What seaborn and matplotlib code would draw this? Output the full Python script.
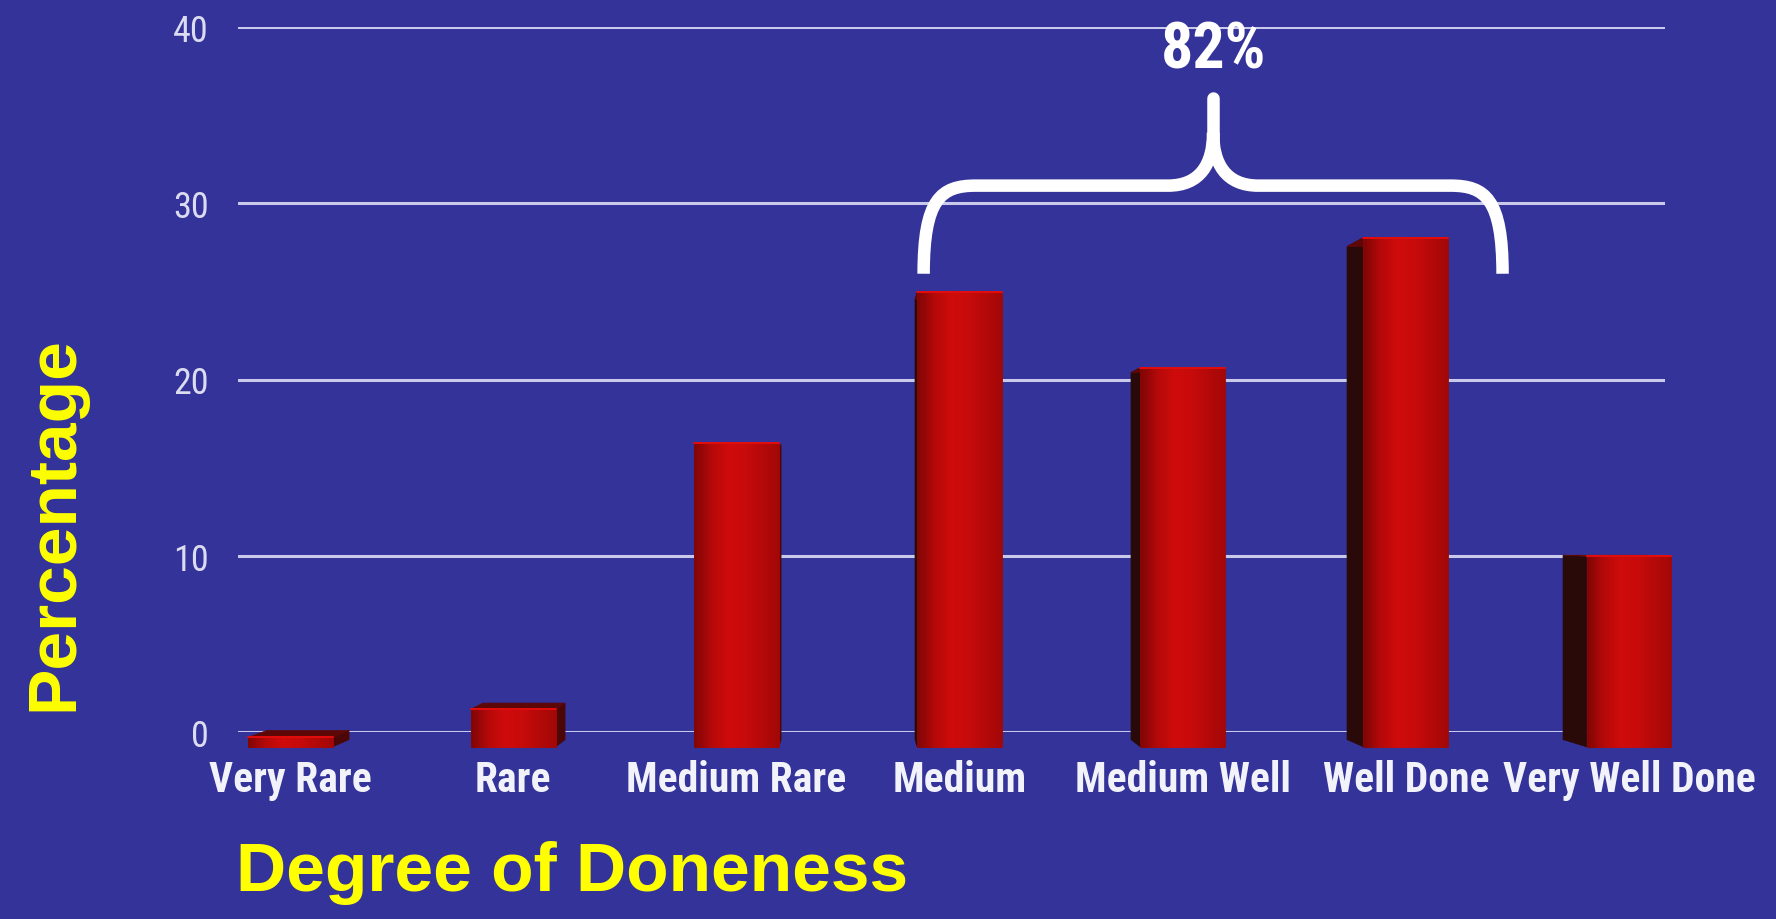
import numpy as np
import pandas as pd
import matplotlib
matplotlib.use("Agg")
import matplotlib.pyplot as plt
import matplotlib.transforms as mtransforms
from matplotlib.patches import Polygon, PathPatch
from matplotlib.collections import PolyCollection
from matplotlib.path import Path
from matplotlib.lines import Line2D
from matplotlib import font_manager as fm
from matplotlib.colors import LinearSegmentedColormap
import seaborn as sns

# ---------------- data ----------------
categories = ["Very Rare", "Rare", "Medium Rare", "Medium",
              "Medium Well", "Well Done", "Very Well Done"]
percentages = [0.5, 2.0, 16.1, 24.1, 20.1, 27.0, 10.1]
y_ticks = [0, 10, 20, 30, 40]
y_tick_labels = ["0", "10", "20", "30", "40"]
bracket_label = "82%"
x_title = "Degree of Doneness"
y_title = "Percentage"

# ---------------- style ----------------
BG = "#333399"
W, H, DPI = 1776, 920, 100
YELLOW = "#ffff00"
GRID = "#c9c9ec"

available = {f.name for f in fm.fontManager.ttflist}
def pick(names):
    for n in names:
        if n in available:
            return n
    return None

NARROW = pick(["Liberation Sans Narrow", "Arial Narrow", "Roboto Condensed",
               "Open Sans Condensed", "DejaVu Sans Condensed"])
NSCALE = 1.0 if NARROW else 0.82
NARROW = NARROW or "Liberation Sans"

sns.set_theme(style="white")
plt.rcParams["font.family"] = ["Liberation Sans", "DejaVu Sans"]

fig = plt.figure(figsize=(W / DPI, H / DPI), dpi=DPI)
fig.patch.set_facecolor(BG)
ax = fig.add_axes([238 / W, 1 - 733 / H, (1665 - 238) / W, (733 - 28) / H])
ax.set_facecolor(BG)

df = pd.DataFrame({"doneness": categories, "pct": percentages})
sns.barplot(data=df, x="doneness", y="pct", order=categories, color="#c40a0a",
            width=0.38, saturation=1, ax=ax, zorder=3)

ax.set_xlim(-0.324, 6.282)
ax.set_ylim(0, 40)
ax.set_yticks(y_ticks)
ax.set_yticklabels(y_tick_labels)
ax.set_xlabel("")
ax.set_ylabel("")
for s in ax.spines.values():
    s.set_visible(False)
ax.yaxis.grid(True, color=GRID, linewidth=2.2, zorder=0)
ax.xaxis.grid(False)
ax.set_axisbelow(True)
ax.tick_params(axis="x", bottom=False, labelbottom=False)
ax.tick_params(axis="y", left=False, pad=15, labelsize=26 * NSCALE, labelcolor="#dcdcf0")
for lbl in ax.get_yticklabels():
    lbl.set_family([NARROW, "DejaVu Sans"])

# ---------------- pseudo-3D perspective ----------------
VIEW_X, VIEW_Y = 2.5, 12.0          # vanishing point (data units)
vx, vy = ax.transData.transform((VIEW_X, VIEW_Y))
def persp(kx, ky):
    return (mtransforms.Affine2D().translate(-vx, -vy)
            .scale(1 + kx, 1 + ky).translate(vx, vy))
A_front = persp(0.033, 0.070)
A_back = persp(0.0, 0.036)
T_front = ax.transData + A_front
T_back = ax.transData + A_back
ident = mtransforms.IdentityTransform()

cmap = LinearSegmentedColormap.from_list(
    "face", ["#7e0505", "#b40909", "#cf0b0b", "#c80a0a", "#b50909", "#a30707"])

NSTRIP = 40
for patch in list(ax.patches):
    x0, y0 = patch.get_x(), patch.get_y()
    w, h = patch.get_width(), patch.get_height()
    corners = np.array([(x0, y0), (x0 + w, y0), (x0 + w, y0 + h), (x0, y0 + h)])
    F = T_front.transform(corners)
    B = T_back.transform(corners)
    cx_front = F[:, 0].mean()
    cx_back = B[:, 0].mean()
    # side face
    if cx_front < cx_back:   # bar left of vanishing point -> right side visible
        side = [F[1], F[2], B[2], B[1]]
        side_col = "#4c0606"
    else:
        side = [F[0], F[3], B[3], B[0]]
        side_col = "#2a0909"
    ax.add_patch(Polygon(side, closed=True, transform=ident, facecolor=side_col,
                         edgecolor=side_col, lw=0.5, zorder=4, clip_on=False))
    # top face
    ax.add_patch(Polygon([F[3], F[2], B[2], B[3]], closed=True, transform=ident,
                         facecolor="#5e0707", edgecolor="#5e0707", lw=0.5,
                         zorder=4, clip_on=False))
    # front face (the seaborn bar itself, moved to the front plane)
    patch.set_transform(T_front)
    patch.set_clip_on(False)
    patch.set_zorder(5)
    patch.set_edgecolor("none")
    # gradient shading strips on the front face
    strips, cols = [], []
    for j in range(NSTRIP):
        a = x0 + w * j / NSTRIP
        b = x0 + w * (j + 1) / NSTRIP
        pts = T_front.transform([(a, y0), (b, y0), (b, y0 + h), (a, y0 + h)])
        strips.append(pts)
        cols.append(cmap((j + 0.5) / NSTRIP))
    pc = PolyCollection(strips, facecolors=cols, edgecolors=cols, linewidths=0.6,
                        transform=ident, zorder=6, clip_on=False)
    ax.add_collection(pc, autolim=False)
    # bright top edge
    ax.add_line(Line2D([F[3][0], F[2][0]], [F[3][1], F[2][1]], color="#e40d0d",
                       lw=1.4, transform=ident, zorder=7, clip_on=False))

# category labels under front faces
for i, cat in enumerate(categories):
    ax.annotate(cat, xy=(i, 0), xycoords=T_front, xytext=(0, -31.7),
                textcoords="offset points", ha="center", va="baseline",
                fontsize=30 * NSCALE, fontweight="bold", color="#f2f2fa",
                family=[NARROW, "DejaVu Sans"], annotation_clip=False)

# ---------------- bracket annotation ----------------
xl, xr = 2.85, 5.53
yb, ym, yt = 26.0, 31.0, 36.0
xm = (xl + xr) / 2
bw = xr - xl
hh = yt - ym
verts, codes = [], []
for sgn in (1, -1):
    xe = xm - sgn * bw / 2
    X = lambda f, xe=xe, sgn=sgn: xe + sgn * f * bw
    verts += [(xe, yb), (xe, yb + 0.85 * (ym - yb)), (X(0.03), ym), (X(0.09), ym),
              (X(0.422), ym), (X(0.478), ym), (xm, ym + 0.25 * hh), (xm, ym + 0.6 * hh)]
    codes += [Path.MOVETO, Path.CURVE4, Path.CURVE4, Path.CURVE4,
              Path.LINETO, Path.CURVE4, Path.CURVE4, Path.CURVE4]
ax.add_patch(PathPatch(Path(verts, codes), facecolor="none", edgecolor="white",
                       lw=9, capstyle="butt", joinstyle="round", zorder=8, clip_on=False))
ax.add_line(Line2D([xm, xm], [ym + 0.5 * hh, yt], color="white", lw=9,
                   solid_capstyle="round", zorder=8, clip_on=False))
ax.text(xm, 37.7, bracket_label, ha="center", va="baseline", color="white",
        fontsize=46 * NSCALE, fontweight="bold", family=[NARROW, "DejaVu Sans"],
        zorder=9, clip_on=False)

# ---------------- axis titles ----------------
fig.text(54 / W, 1 - 524 / H, y_title, rotation=90, ha="center", va="center",
         color=YELLOW, fontsize=50, fontweight="bold",
         family=["Liberation Sans", "DejaVu Sans"])
fig.text(572 / W, 1 - 891 / H, x_title, ha="center", va="baseline",
         color=YELLOW, fontsize=50, fontweight="bold",
         family=["Liberation Sans", "DejaVu Sans"])

fig.savefig("out.png", dpi=DPI, facecolor=BG)
